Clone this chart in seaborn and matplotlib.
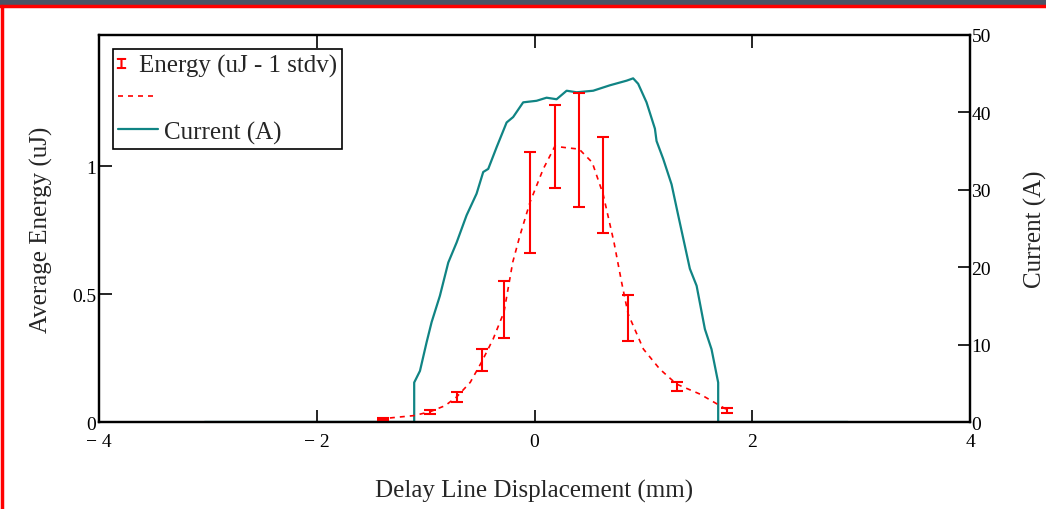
import matplotlib
matplotlib.use("Agg")
import matplotlib.pyplot as plt
import seaborn as sns
import pandas as pd
from matplotlib.lines import Line2D
from matplotlib.patches import Rectangle
from matplotlib.legend_handler import HandlerLine2D

# ---- data ----
# current trace (A) vs delay line displacement (mm)
cur_x = [-3.03, -1.105, -1.105, -1.052, -0.991, -0.945, -0.869, -0.792, -0.715, -0.624,
         -0.532, -0.471, -0.425, -0.348, -0.256, -0.196, -0.104, 0.019, 0.111, 0.203,
         0.295, 0.387, 0.539, 0.692, 0.846, 0.906, 0.952, 1.029, 1.106, 1.121, 1.182,
         1.259, 1.320, 1.427, 1.489, 1.565, 1.626, 1.687, 1.687, 2.878]
cur_y = [0.0, 0.0, 5.1, 6.6, 10.3, 12.9, 16.3, 20.6, 23.2, 26.7,
         29.5, 32.3, 32.7, 35.5, 38.7, 39.4, 41.3, 41.5, 41.9, 41.7,
         42.8, 42.6, 42.8, 43.5, 44.1, 44.4, 43.7, 41.3, 37.9, 36.3, 34.0,
         30.7, 26.7, 19.8, 17.6, 12.0, 9.4, 5.1, 0.0, 0.0]

# energy means and 1-stdv errors (uJ)
en_x = [-1.39, -0.96, -0.715, -0.486, -0.278, -0.042, 0.187, 0.41, 0.631, 0.861, 1.305, 1.764]
en_y = [0.011, 0.038, 0.098, 0.243, 0.439, 0.856, 1.076, 1.063, 0.926, 0.406, 0.139, 0.044]
en_err = [0.003, 0.007, 0.020, 0.043, 0.111, 0.197, 0.161, 0.222, 0.189, 0.091, 0.017, 0.009]

# dashed smooth energy curve
curve_x = [-1.42, -1.107, -0.96, -0.82, -0.715, -0.59, -0.485, -0.38, -0.28, -0.2, -0.134,
           -0.04, 0.08, 0.187, 0.3, 0.41, 0.53, 0.63, 0.73, 0.80, 0.86, 1.0, 1.15, 1.305,
           1.52, 1.76]
curve_y = [0.012, 0.025, 0.04, 0.064, 0.098, 0.155, 0.235, 0.324, 0.43, 0.624, 0.728,
           0.86, 0.988, 1.077, 1.071, 1.066, 1.014, 0.89, 0.702, 0.546, 0.422, 0.285, 0.207,
           0.148, 0.109, 0.05]

x_ticks = [-4, -2, 0, 2, 4]
x_ticklabels = ["\u2212 4", "\u2212 2", "0", "2", "4"]
e_ticks = [0, 0.5, 1]
e_ticklabels = ["0", "0.5", "1"]
c_ticks = [0, 10, 20, 30, 40, 50]
c_ticklabels = ["0", "10", "20", "30", "40", "50"]

# ---- style ----
sns.set_style("white")
plt.rcParams["font.family"] = ["Liberation Serif", "DejaVu Serif"]

RED = "#ff0000"
TEAL = "#108484"


class LongLineHandler(HandlerLine2D):
    """Draw the legend key line longer than the (narrow) handle box."""
    def __init__(self, length_em, **kw):
        super().__init__(**kw)
        self.length_em = length_em

    def create_artists(self, legend, orig_handle, xdescent, ydescent, width, height,
                       fontsize, trans):
        return super().create_artists(legend, orig_handle, xdescent, ydescent,
                                      self.length_em * fontsize, height, fontsize, trans)


fig = plt.figure(figsize=(10.46, 5.10), dpi=100)
fig.patch.set_facecolor("white")
ax = fig.add_axes([99 / 1046, 1 - 423 / 510, 871 / 1046, 387 / 510])
ax2 = ax.twinx()
ax.set_zorder(ax2.get_zorder() + 1)
ax.patch.set_visible(False)

df_cur = pd.DataFrame({"x": cur_x, "y": cur_y})
sns.lineplot(data=df_cur, x="x", y="y", ax=ax2, color=TEAL, lw=1.6,
             sort=False, estimator=None)

df_curve = pd.DataFrame({"x": curve_x, "y": curve_y})
sns.lineplot(data=df_curve, x="x", y="y", ax=ax, color=RED, lw=1.2,
             sort=False, estimator=None, linestyle=(0, (3, 3)))
ax.errorbar(en_x, en_y, yerr=en_err, fmt="none", ecolor=RED, elinewidth=1.5,
            capsize=4.5, capthick=1.5)

ax.set_xlim(-4, 4)
ax.set_ylim(0, 387 / 256)
ax2.set_ylim(0, 50)

ax.set_xticks(x_ticks)
ax.set_xticklabels(x_ticklabels)
ax.set_yticks(e_ticks)
ax.set_yticklabels(e_ticklabels)
ax2.set_yticks(c_ticks)
ax2.set_yticklabels(c_ticklabels)

ax.tick_params(axis="x", direction="in", length=9, width=1.2, top=True, bottom=True,
               labelsize=14, pad=8, colors="black")
ax.tick_params(axis="y", direction="in", length=9, width=1.2, left=True, right=False,
               labelsize=14, pad=2, colors="black")
ax2.tick_params(axis="y", direction="in", length=9, width=1.2, right=True, left=False,
                labelsize=14, pad=1, colors="black")

for a in (ax, ax2):
    for s in a.spines.values():
        s.set_color("black")
        s.set_linewidth(1.6)
        s.set_visible(True)

ax.set_xlabel("Delay Line Displacement (mm)", fontsize=18, labelpad=21)
ax.set_ylabel("Average Energy (uJ)", fontsize=18, labelpad=14)
ax2.set_ylabel("Current (A)", fontsize=18, labelpad=24)

h_err = Line2D([], [], color=RED, marker="$\u2336$", linestyle="none", markersize=7)
h_dash = Line2D([], [], color=RED, lw=1.2, linestyle=(0, (3, 3)))
h_cur = Line2D([], [], color=TEAL, lw=1.6)
handles = [h_err, h_dash, h_cur]
labels = ["Energy (uJ - 1 stdv)", "", "    Current (A)"]
leg = ax.legend(handles, labels, loc="upper left", bbox_to_anchor=(0.016, 0.964),
                fontsize=18, frameon=True, fancybox=False, shadow=False,
                borderaxespad=0, handlelength=0.25, handletextpad=0.6,
                labelspacing=0.42, borderpad=0.2,
                handler_map={h_dash: LongLineHandler(1.6), h_cur: LongLineHandler(1.6)})
leg.get_frame().set_edgecolor("black")
leg.get_frame().set_linewidth(1.2)
leg.get_frame().set_facecolor("white")
leg.get_frame().set_alpha(1)

# frame decoration of the original screenshot
fig.add_artist(Rectangle((0, 1 - 6 / 510), 1, 6 / 510, transform=fig.transFigure,
                         facecolor="#4b5466", edgecolor="none"))
fig.add_artist(Line2D([0, 1], [1 - 7 / 510, 1 - 7 / 510], transform=fig.transFigure,
                      color=RED, lw=2.5))
fig.add_artist(Line2D([1.5 / 1046, 1.5 / 1046], [0, 1 - 7 / 510], transform=fig.transFigure,
                      color=RED, lw=2.5))

fig.savefig("out.png", dpi=100)
